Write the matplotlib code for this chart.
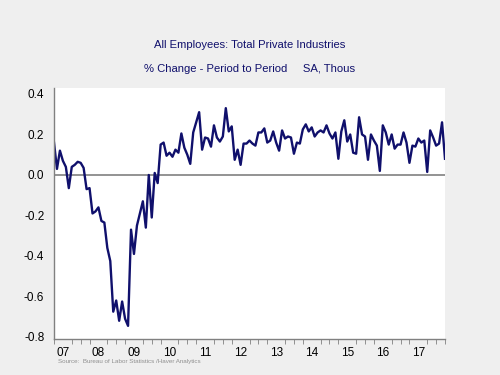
import matplotlib.pyplot as plt
import numpy as np

plt.rcParams['font.family'] = ['Liberation Sans', 'DejaVu Sans']

#-------------------------------------
# Monthly % change, Jan 2007 onward
pct_change = [
    0.16, 0.03, 0.12, 0.07, 0.04, -0.065, 0.04, 0.05, 0.065, 0.06, 0.035, -0.07,
    -0.065, -0.19, -0.18, -0.16, -0.227, -0.235, -0.36, -0.425, -0.675, -0.62, -0.72, -0.625,
    -0.71, -0.745, -0.27, -0.39, -0.25, -0.19, -0.13, -0.26, 0.0, -0.21, 0.01, -0.04,
    0.15, 0.16, 0.095, 0.11, 0.09, 0.125, 0.11, 0.205, 0.135, 0.10, 0.055, 0.21,
    0.26, 0.31, 0.125, 0.185, 0.18, 0.14, 0.245, 0.185, 0.165, 0.19, 0.33, 0.215,
    0.24, 0.075, 0.125, 0.05, 0.155, 0.155, 0.17, 0.155, 0.145, 0.21, 0.21, 0.23,
    0.16, 0.17, 0.215, 0.16, 0.12, 0.22, 0.18, 0.19, 0.185, 0.105, 0.16, 0.155,
    0.225, 0.25, 0.215, 0.235, 0.19, 0.21, 0.22, 0.21, 0.245, 0.205, 0.18, 0.21,
    0.08, 0.215, 0.27, 0.165, 0.2, 0.11, 0.105, 0.285, 0.2, 0.19, 0.075, 0.2,
    0.17, 0.145, 0.02, 0.245, 0.21, 0.15, 0.2, 0.13, 0.15, 0.15, 0.21, 0.16,
    0.06, 0.145, 0.14, 0.18, 0.16, 0.17, 0.015, 0.22, 0.185, 0.145, 0.155, 0.26,
    0.08,
]
start_year = 2007
year_labels = ['07', '08', '09', '10', '11', '12', '13', '14', '15', '16', '17']
y_ticks = [0.4, 0.2, 0.0, -0.2, -0.4, -0.6, -0.8]
#-------------------------------------

months = start_year + np.arange(len(pct_change)) / 12.0

navy = '#10106c'
bg = '#efefef'

fig = plt.figure(figsize=(5, 3.75), dpi=100, facecolor=bg)
ax = fig.add_axes([54 / 500, 1 - 339 / 375, 391 / 500, 250.7 / 375])
ax.set_facecolor('white')

ax.axhline(0, color='#808080', linewidth=1.2, zorder=1)
ax.plot(months, pct_change, color=navy, linewidth=1.7, zorder=2)

ax.set_xlim(start_year, start_year + 11.0)
ax.set_ylim(-0.81, 0.428)

for side in ['top', 'right']:
    ax.spines[side].set_visible(False)
for side in ['left', 'bottom']:
    ax.spines[side].set_color('#808080')
    ax.spines[side].set_linewidth(1.0)

ax.set_yticks(y_ticks)
ax.set_yticklabels(['%.1f' % v for v in y_ticks], fontsize=8.5)
ax.tick_params(axis='y', length=0, pad=7)

quarters = start_year + np.arange(0, 44 + 1) * 0.25
ax.set_xticks(quarters, minor=True)
ax.set_xticks([start_year + i + 0.25 for i in range(len(year_labels))])
ax.set_xticklabels(year_labels, fontsize=8.5)
ax.tick_params(axis='x', which='major', length=0, pad=6)
ax.tick_params(axis='x', which='minor', length=3.5, color='#808080', direction='out')

fig.text(0.5, 1 - 45 / 375, 'All Employees: Total Private Industries',
         ha='center', va='center', fontsize=8.1, color=navy)
fig.text(0.5, 1 - 69 / 375, '% Change - Period to Period     SA, Thous',
         ha='center', va='center', fontsize=8.1, color=navy)
fig.text(58 / 500, 1 - 361 / 375, 'Source:  Bureau of Labor Statistics /Haver Analytics',
         ha='left', va='center', fontsize=4.5, color='#909090')

fig.savefig('out.png', dpi=100, facecolor=bg)
